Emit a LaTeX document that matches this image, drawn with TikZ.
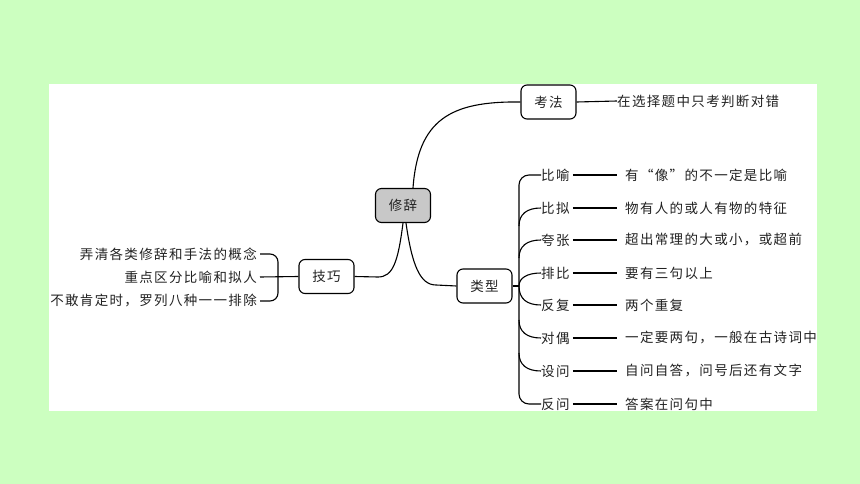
\documentclass[tikz,border=0pt]{standalone}
\usepackage{fontspec}
\newfontfamily\cjk[LetterSpace=10]{Noto Sans CJK SC}
\definecolor{bggreen}{RGB}{204,255,192}
\definecolor{boxgray}{RGB}{200,200,200}
\definecolor{txt}{RGB}{34,34,34}
\begin{document}
\begin{tikzpicture}[x=1pt,y=-1pt,
  every node/.style={font=\cjk\fontsize{13.5}{16}\selectfont, text=txt, inner sep=0pt},
  topic/.style={draw, rounded corners=6pt, line width=1.1pt, minimum width=55pt, minimum height=34pt},
  conn/.style={line width=1.1pt, draw=black}]
\fill[bggreen] (0,0) rectangle (860,484);
\fill[white] (49,84) rectangle (817,411);
\useasboundingbox (0,0) rectangle (860,484);

% main topics
\node[topic, fill=boxgray] (xc) at (403,205.5) {修辞};
\node[topic] (kf) at (548.5,102) {考法};
\node[topic] (lx) at (484.5,286) {类型};
\node[topic] (jq) at (326.5,276.5) {技巧};

% connectors from center
\draw[conn] ([xshift=10pt]xc.north) .. controls (418,120) and (450,101) .. (kf.west);
\draw[conn] (xc.south) .. controls (398,262) and (393,277) .. (378,277) -- (jq.east);
\draw[conn] ([xshift=3pt]xc.south) .. controls (412,265) and (420,285) .. (436,285) -- (lx.west);

% kaofa
\node[anchor=west] (kfd) at (617,101) {在选择题中只考判断对错};
\draw[conn] (kf.east) -- (kfd.west);

% jiqiao
\node[anchor=east] (j1) at (257,254) {弄清各类修辞和手法的概念};
\node[anchor=east] (j2) at (257,277) {重点区分比喻和拟人};
\node[anchor=east] (j3) at (257,301) {不敢肯定时，罗列八种一一排除};
\draw[conn, rounded corners=8pt] ([xshift=3pt]j1.east) -| (278,280) |- ([xshift=3pt]j3.east);
\draw[conn] ([xshift=3pt]j2.east) -- (jq.west);

% leixing
\node[anchor=west] (l1) at (541,175) {比喻};
\node[anchor=west] (l2) at (541,208) {比拟};
\node[anchor=west] (l3) at (541,240) {夸张};
\node[anchor=west] (l4) at (541,273) {排比};
\node[anchor=west] (l5) at (541,305) {反复};
\node[anchor=west] (l6) at (541,338) {对偶};
\node[anchor=west] (l7) at (541,371) {设问};
\node[anchor=west] (l8) at (541,404) {反问};

\node[anchor=west] (d1) at (625,175) {有“像”的不一定是比喻};
\node[anchor=west] (d2) at (625,208) {物有人的或人有物的特征};
\node[anchor=west] (d3) at (625,240) {超出常理的大或小，或超前};
\node[anchor=west] (d4) at (625,273) {要有三句以上};
\node[anchor=west] (d5) at (625,305) {两个重复};
\node[anchor=west] (d6) at (625,338) {一定要两句，一般在古诗词中};
\node[anchor=west] (d7) at (625,371) {自问自答，问号后还有文字};
\node[anchor=west] (d8) at (625,404) {答案在问句中};

\coordinate (sp) at (519,286);
\draw[conn] (lx.east) -- (sp);
\draw[conn, rounded corners=10pt] (l1.west) -| (519,290) |- (l8.west);
\draw[conn] (519,226) .. controls (519,214) and (527,208) .. (l2.west);
\draw[conn] (519,258) .. controls (519,246) and (527,240) .. (l3.west);
\draw[conn] (sp) .. controls (519,278) and (527,273) .. (l4.west);
\draw[conn] (sp) .. controls (519,299) and (527,305) .. (l5.west);
\draw[conn] (519,320) .. controls (519,332) and (527,338) .. (l6.west);
\draw[conn] (519,353) .. controls (519,365) and (527,371) .. (l7.west);

\foreach \i in {1,...,8}{
  \draw[conn] ([xshift=3pt]l\i.east) -- ([xshift=-8pt]d\i.west);
}
\end{tikzpicture}
\end{document}
